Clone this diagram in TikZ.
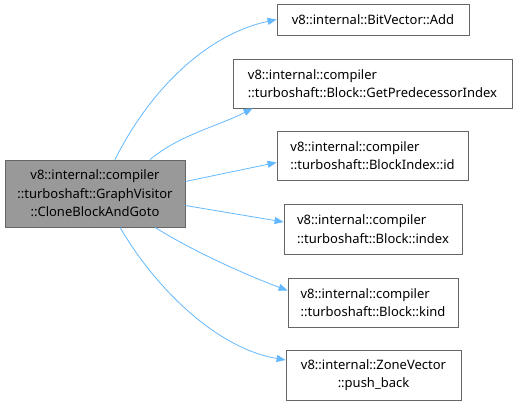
\documentclass[tikz,border=0pt]{standalone}
\usepackage{fontspec}
\setmainfont{Noto Sans}
\usetikzlibrary{arrows.meta}
\definecolor{edgeblue}{HTML}{63B8FF}
\definecolor{srcfill}{HTML}{999999}
\definecolor{srcdraw}{HTML}{666666}
\definecolor{boxdraw}{HTML}{666666}
\tikzset{
  fn/.style={draw=boxdraw, fill=white, line width=0.8pt, inner sep=0pt, font=\fontsize{13}{18.5}\selectfont, align=left},
  srcbox/.style={fn, fill=srcfill, draw=srcdraw, align=center},
  edge/.style={draw=edgeblue, line width=0.8pt, -{Triangle[length=9pt,width=7pt]}}
}
\begin{document}
\begin{tikzpicture}[x=1pt,y=1pt]
\useasboundingbox (0,0) rectangle (518,406);
\node[srcbox, minimum width=180pt, minimum height=67pt] (src) at (95,212.5) {v8::internal::compiler\\::turboshaft::GraphVisitor\\::CloneBlockAndGoto};
\node[fn, minimum width=192pt, minimum height=31pt] (add) at (373,386.5) {v8::internal::BitVector::Add};
\node[fn, minimum width=279pt, minimum height=49pt] (gpi) at (372.5,322.5) {v8::internal::compiler\\::turboshaft::Block::GetPredecessorIndex};
\node[fn, minimum width=191pt, minimum height=49pt] (bid) at (372.5,250.5) {v8::internal::compiler\\::turboshaft::BlockIndex::id};
\node[fn, minimum width=178pt, minimum height=50pt] (idx) at (373,177) {v8::internal::compiler\\::turboshaft::Block::index};
\node[fn, minimum width=170pt, minimum height=49pt] (kind) at (373,103.5) {v8::internal::compiler\\::turboshaft::Block::kind};
\node[fn, align=center, minimum width=175pt, minimum height=50pt] (push) at (373.5,31) {v8::internal::ZoneVector\\::push\_back};
\draw[edge] ([xshift=20pt]src.north) .. controls +(35,70) and +(-70,-15) .. (add.west);
\draw[edge] ([xshift=55pt]src.north) .. controls +(30,25) and +(-35,-18) .. ([xshift=20pt]gpi.south west);
\draw[edge] ([yshift=12pt]src.east) -- ([yshift=-7pt]bid.west);
\draw[edge] ([yshift=-12pt]src.east) -- ([yshift=7pt]idx.west);
\draw[edge] ([xshift=60pt]src.south) .. controls +(40,-25) and +(-40,15) .. ([yshift=12pt]kind.west);
\draw[edge] ([xshift=25pt]src.south) .. controls +(35,-60) and +(-70,12) .. ([yshift=15pt]push.west);
\end{tikzpicture}
\end{document}
